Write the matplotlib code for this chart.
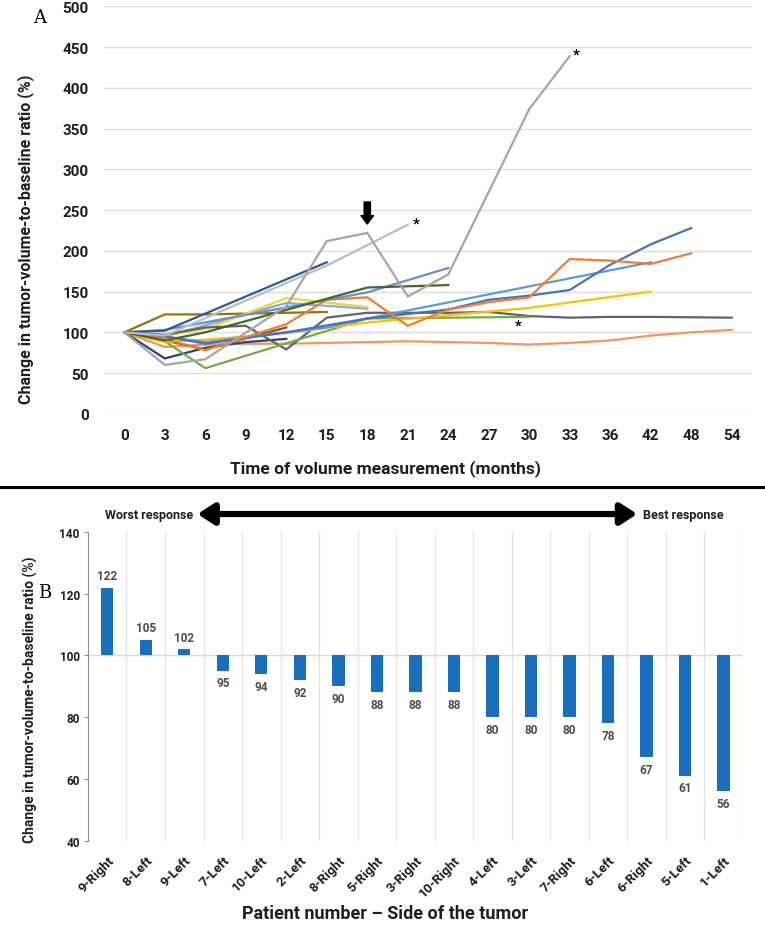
import matplotlib
matplotlib.use("Agg")
import matplotlib.pyplot as plt
from matplotlib.lines import Line2D
import numpy as np

N = np.nan

# ---- panel A: tumour volume ratio over time ----
months = ["0", "3", "6", "9", "12", "15", "18", "21", "24", "27", "30", "33", "36", "42", "48", "54"]

gray_big = [100, 60, 67, N, 132, 212, 222, 144, 171, N, 374, 439, N, N, N, N]
light_gray = [100, 96, N, N, N, 182, N, 232, N, N, N, N, N, N, N, N]
steel_blue = [100, 102, N, N, N, 186, N, N, N, N, N, N, N, N, N, N]
navy = [100, 68, 81, 88, 92, N, N, N, N, N, N, N, N, N, N, N]
olive = [100, 122, 122, N, N, 125, N, N, N, N, N, N, N, N, N, N]
brown = [100, 90, 79, N, 106, N, N, N, N, N, N, N, N, N, N, N]
dark_gray = [100, 97, 106, 108, 79, 118, 124, 124, 124, 125, 120, 118, 119, 119, 118.5, 118]
dark_green = [100, 90, 100, N, N, N, 155, N, 158, N, N, N, N, N, N, N]
mid_blue = [100, 103, N, N, N, N, 149, N, 179, N, N, N, N, N, N, N]
pale_blue = [100, 95, N, N, 136, N, 129, N, N, N, N, N, N, N, N, N]
pale_yellow = [100, 96, 104, N, 142, N, 131, N, N, N, N, N, N, N, N, N]
yellow = [100, 88, 91, N, 99, N, 112, N, N, N, 130, N, N, 150, N, N]
light_blue = [100, 95, 88, N, N, 106, 117, N, N, N, N, N, N, 186, N, N]
green = [100, 89, 56, N, N, N, 117, N, N, N, 119, N, N, N, N, N]
orange = [100, 92, 78, N, 110, 140, 143, 108, 128, 137, 143, 190, 188, 184, 197, N]
blue = [100, 95, 86, N, 100, N, 117, N, 128, 140, 145, 152, 183, 208, 228, N]
salmon = [100, 82, 85, 86, 86, 87, 88, 89, 88, 87, 85, 87, 90, 96, 100, 103]

series = [
    (salmon, "#f1975a"), (navy, "#264478"), (brown, "#9e480e"), (olive, "#997300"),
    (pale_blue, "#7cafdd"), (pale_yellow, "#ffcd33"), (dark_gray, "#636363"),
    (green, "#70ad47"), (yellow, "#ffc000"), (light_blue, "#5b9bd5"),
    (blue, "#4472c4"), (orange, "#ed7d31"), (mid_blue, "#698ed0"),
    (dark_green, "#43682b"), (steel_blue, "#255e91"), (light_gray, "#bdbdbd"),
    (gray_big, "#a5a5a5"),
]

# ---- panel B: final ratio per tumour ----
patients = ["9-Right", "8-Left", "9-Left", "7-Left", "10-Left", "2-Left", "8-Right", "5-Right",
            "3-Right", "10-Right", "4-Left", "3-Left", "7-Right", "6-Left", "6-Right", "5-Left", "1-Left"]
final_ratio = [122, 105, 102, 95, 94, 92, 90, 88, 88, 88, 80, 80, 80, 78, 67, 61, 56]

plt.rcParams["font.family"] = ["Roboto", "DejaVu Sans"]
plt.rcParams["font.weight"] = "bold"
INK = "#1e1e1e"

fig = plt.figure(figsize=(7.65, 9.28), dpi=100)

# --- A ---
axA = fig.add_axes([0.136, 0.553, 0.847, 0.439])
x = np.arange(len(months))
for vals, col in series:
    v = np.array(vals, dtype=float)
    m = ~np.isnan(v)
    axA.plot(x[m], v[m], color=col, lw=1.6, solid_joinstyle="miter")

axA.set_xlim(-0.5, len(months) - 0.5)
axA.set_ylim(0, 500)
axA.set_yticks(range(0, 501, 50))
axA.set_xticks(x)
axA.set_xticklabels(months)
axA.grid(True, axis="y", color="#dedede", lw=1)
axA.set_axisbelow(True)
for s in axA.spines.values():
    s.set_visible(False)
axA.tick_params(axis="both", length=0, labelsize=11, colors=INK)
axA.tick_params(axis="y", pad=11)
axA.tick_params(axis="x", pad=10)
axA.set_ylabel("Change in tumor-volume-to-baseline ratio (%)", fontsize=11.5, fontweight="bold", color=INK)
axA.yaxis.set_label_coords(-0.108, 0.43)
axA.set_xlabel("Time of volume measurement (months)", fontsize=12.5, fontweight="bold", color=INK)
axA.xaxis.set_label_coords(0.434, -0.112)

# asterisks at line ends
axA.annotate("*", xy=(11, 439), xytext=(5, 1), textcoords="offset points",
             ha="center", va="center", fontsize=11, fontweight="bold")
axA.annotate("*", xy=(7, 232), xytext=(6, 1), textcoords="offset points",
             ha="center", va="center", fontsize=11, fontweight="bold")
axA.annotate("*", xy=(10, 119), xytext=(-8, -6), textcoords="offset points",
             ha="center", va="center", fontsize=11, fontweight="bold")
# arrow marking the 18-month point
axA.annotate("", xy=(6, 233), xytext=(6, 260),
             arrowprops=dict(arrowstyle="simple,head_width=0.9,head_length=0.6,tail_width=0.45",
                             color="black", shrinkA=0, shrinkB=0))
fig.text(0.052, 0.981, "A", fontsize=13, family="DejaVu Serif", fontweight="normal",
         ha="center", va="center")

# separator
fig.add_artist(Line2D([0, 1], [0.474, 0.474], color="black", lw=2.2, transform=fig.transFigure))

# --- B ---
axB = fig.add_axes([0.115, 0.093, 0.856, 0.3327])
xb = np.arange(len(patients))
base = 100
heights = [v - base for v in final_ratio]
axB.bar(xb, heights, bottom=base, width=0.32, color="#1a6fbd", zorder=3)
for xi, v in zip(xb, final_ratio):
    if v >= base:
        axB.annotate(f"{v}", xy=(xi, v), xytext=(0, 4), textcoords="offset points",
                     ha="center", va="bottom", fontsize=8.5, fontweight="bold", color="#4d4d4d")
    else:
        axB.annotate(f"{v}", xy=(xi, v), xytext=(0, -4), textcoords="offset points",
                     ha="center", va="top", fontsize=8.5, fontweight="bold", color="#4d4d4d")

axB.set_xlim(-0.5, len(patients) - 0.5)
axB.set_ylim(40, 140)
axB.set_yticks(range(40, 141, 20))
for b in np.arange(0.5, len(patients), 1.0):
    axB.axvline(b, color="#e3e3e3", lw=0.9, zorder=1)
axB.axhline(base, color="#d9d9d9", lw=1, zorder=2)
for k in ["top", "right", "bottom"]:
    axB.spines[k].set_visible(False)
axB.spines["left"].set_color("#8c8c8c")
axB.tick_params(axis="y", length=3, color="#8c8c8c", labelsize=8.5, pad=3, labelcolor=INK)
axB.set_xticks(xb)
axB.set_xticklabels(patients, rotation=45, ha="right", rotation_mode="anchor")
axB.tick_params(axis="x", length=0, labelsize=9.5, pad=9, labelcolor=INK)
axB.set_ylabel("Change in tumor-volume-to-baseline ratio (%)", fontsize=10, fontweight="bold", color=INK)
axB.yaxis.set_label_coords(-0.077, 0.459)
axB.set_xlabel("Patient number \u2013 Side of the tumor", fontsize=13, fontweight="bold", color=INK)
axB.xaxis.set_label_coords(0.453, -0.205)
fig.text(0.059, 0.361, "B", fontsize=13, family="DejaVu Serif", fontweight="normal",
         ha="center", va="center")

# worst / best response arrow
fig.text(0.252, 0.445, "Worst response", fontsize=9, fontweight="bold", ha="right", va="center", color=INK)
fig.text(0.841, 0.445, "Best response", fontsize=9, fontweight="bold", ha="left", va="center", color=INK)
axB.annotate("", xy=(0.258, 0.445), xytext=(0.833, 0.445), xycoords="figure fraction",
             textcoords="figure fraction",
             arrowprops=dict(arrowstyle="<|-|>,head_length=0.7,head_width=0.45", lw=4.5,
                             color="black", shrinkA=0, shrinkB=0, mutation_scale=14))

fig.savefig("out.png", dpi=100, facecolor="white")
